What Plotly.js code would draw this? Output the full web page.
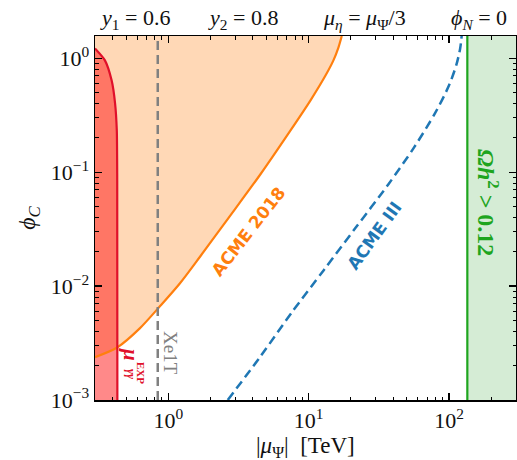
<!DOCTYPE html>
<html><head><meta charset="utf-8">
<script src="https://cdn.plot.ly/plotly-3.0.1.min.js"></script>
<style>html,body{margin:0;padding:0;background:#fff}#plot{width:517px;height:460px}</style>
</head><body><div id="plot"></div>
<script>
// ---- data ----
const xMin = 0.3, xMax = 300;
const yMin = 1e-3, yMax = Math.PI / 2;

// ACME 2018 bound (orange)
const acme2018_mu  = [0.300, 0.431, 0.628, 0.873, 1.21, 1.69, 2.67, 4.53, 7.42, 10.3, 13.2, 15.0, 16.3, 17.2];
const acme2018_phi = [0.00238, 0.00289, 0.00428, 0.00668, 0.0106, 0.0183, 0.0394, 0.0960, 0.233, 0.428, 0.710, 0.960, 1.25, 1.5708];

// ACME III projection (blue dashed)
const acme3_mu  = [2.65, 4.55, 7.6, 12.8, 21.5, 37.0, 56.5, 79.5, 100, 113, 120, 123];
const acme3_phi = [0.001, 0.00243, 0.00591, 0.0138, 0.0323, 0.0785, 0.166, 0.330, 0.579, 0.885, 1.22, 1.5708];

// mu_gammagamma^EXP bound (red)
const diphoton_mu  = [0.300, 0.353, 0.394, 0.417, 0.429, 0.432, 0.433];
const diphoton_phi = [1.22, 0.96, 0.641, 0.403, 0.233, 0.085, 0.001];

// Xenon1T bound (grey dashed)
const xe1t_mu = 0.84;
// relic density bound (green)
const relic_mu = 135;

// ---- build traces ----
const orangeFillX = [xMin].concat(acme2018_mu);
const orangeFillY = [yMax].concat(acme2018_phi);
const redFillX = [xMin].concat(diphoton_mu, [xMin]);
const redFillY = [diphoton_phi[0]].concat(diphoton_phi, [yMin]);

const traces = [
  {x: orangeFillX, y: orangeFillY, mode: 'lines', fill: 'toself', fillcolor: 'rgba(255,127,14,0.3)', line: {width: 0}, hoverinfo: 'skip'},
  {x: redFillX, y: redFillY, mode: 'lines', fill: 'toself', fillcolor: 'rgba(255,20,20,0.5)', line: {width: 0}, hoverinfo: 'skip'},
  {x: acme2018_mu, y: acme2018_phi, mode: 'lines', line: {color: '#ff7f0e', width: 2.2, shape: 'spline', smoothing: 0.8}},
  {x: diphoton_mu, y: diphoton_phi, mode: 'lines', line: {color: '#e0102a', width: 2.2, shape: 'spline', smoothing: 0.6}},
  {x: [xe1t_mu, xe1t_mu], y: [yMin, yMax], mode: 'lines', line: {color: '#808080', width: 2.5, dash: '9px,5px'}},
  {x: acme3_mu, y: acme3_phi, mode: 'lines', line: {color: '#1f77b4', width: 2.5, dash: '9px,5px', shape: 'spline', smoothing: 0.8}},
  {x: [relic_mu, xMax, xMax, relic_mu], y: [yMin, yMin, yMax, yMax], mode: 'lines', fill: 'toself', fillcolor: 'rgba(44,160,44,0.2)', line: {width: 0}, hoverinfo: 'skip'},
  {x: [relic_mu, relic_mu], y: [yMin, yMax], mode: 'lines', line: {color: '#1ea51e', width: 2.2}}
];

const xTickVals = [1, 10, 100];
const xTickText = ['10<sup>0</sup>', '10<sup>1</sup>', '10<sup>2</sup>'];
const yTickVals = [1e-3, 1e-2, 1e-1, 1];
const yTickText = ['10<sup>−3</sup>', '10<sup>−2</sup>', '10<sup>−1</sup>', '10<sup>0</sup>'];

const W = 517, H = 460, L = 95, R = 1, T = 36, B = 60;
const pw = W - L - R, ph = H - T - B;
function px(x) { return (x - L) / pw; }
function py(y) { return (H - B - y) / ph; }

const serif = 'Liberation Serif, DejaVu Serif, serif';
const sans = 'DejaVu Sans, Liberation Sans, sans-serif';

const annotations = [
  {text: '<i>y</i><sub>1</sub> = 0.6', x: px(135), y: py(19)},
  {text: '<i>y</i><sub>2</sub> = 0.8', x: px(243), y: py(19)},
  {text: '<i>μ<sub>η</sub></i> = <i>μ</i><sub>Ψ</sub>/3', x: px(364), y: py(19)},
  {text: '<i>ϕ<sub>N</sub></i> = 0', x: px(479), y: py(19)}
].map(a => Object.assign({font: {family: serif, size: 22, color: '#111'}}, a));

annotations.push(
  {text: '|<i>μ</i><sub>Ψ</sub>|  [TeV]', x: px(305), y: py(447), font: {family: serif, size: 23, color: '#111'}},
  {text: '<b>ACME 2018</b>', x: px(248), y: py(232), textangle: -52, font: {family: sans, size: 17, color: '#ff7f0e'}},
  {text: '<b>ACME III</b>', x: px(374), y: py(236), textangle: -54, font: {family: sans, size: 17, color: '#1f77b4'}},
  {text: '<b><i>Ωh</i><sup>2</sup> &gt; 0.12</b>', x: px(488), y: py(202), textangle: 90, font: {family: serif, size: 24, color: '#1ea51e'}},
  {text: 'Xe1T', x: px(171), y: py(353), textangle: 90, font: {family: serif, size: 19, color: '#808080'}},
  {text: '<b><i>μ</i></b>', x: px(131), y: py(354), textangle: 90, font: {family: serif, size: 21, color: '#e0102a'}},
  {text: '<b>EXP</b>', x: px(141), y: py(373), textangle: 90, font: {family: serif, size: 11, color: '#e0102a'}},
  {text: '<b><i>γγ</i></b>', x: px(131), y: py(374), textangle: 90, font: {family: serif, size: 12, color: '#e0102a'}}
);
annotations.forEach(a => { a.xref = 'paper'; a.yref = 'paper'; a.showarrow = false; a.xanchor = 'center'; a.yanchor = 'middle'; });

const axisCommon = {
  showgrid: false, zeroline: false, showline: true, linecolor: '#000', linewidth: 1.5,
  mirror: 'ticks', ticks: 'inside', ticklen: 7, tickwidth: 1.3, tickcolor: '#000',
  tickfont: {family: serif, size: 22, color: '#111'},
  minor: {ticks: 'inside', ticklen: 3.5, tickwidth: 1, tickcolor: '#000', dtick: 'D1', showgrid: false}
};

const layout = {
  width: W, height: H, margin: {l: L, r: R, t: T, b: B},
  paper_bgcolor: '#fff', plot_bgcolor: '#fff', showlegend: false,
  xaxis: Object.assign({}, axisCommon, {type: 'log', range: [Math.log10(xMin), Math.log10(xMax)],
    tickmode: 'array', tickvals: xTickVals, ticktext: xTickText}),
  yaxis: Object.assign({}, axisCommon, {type: 'log', range: [Math.log10(yMin), Math.log10(yMax)],
    tickmode: 'array', tickvals: yTickVals, ticktext: yTickText,
    title: {text: '<i>ϕ<sub>C</sub></i>', font: {family: serif, size: 24, color: '#111'}, standoff: 8}}),
  annotations: annotations
};

Plotly.newPlot('plot', traces, layout, {staticPlot: true, displayModeBar: false});
</script></body></html>
